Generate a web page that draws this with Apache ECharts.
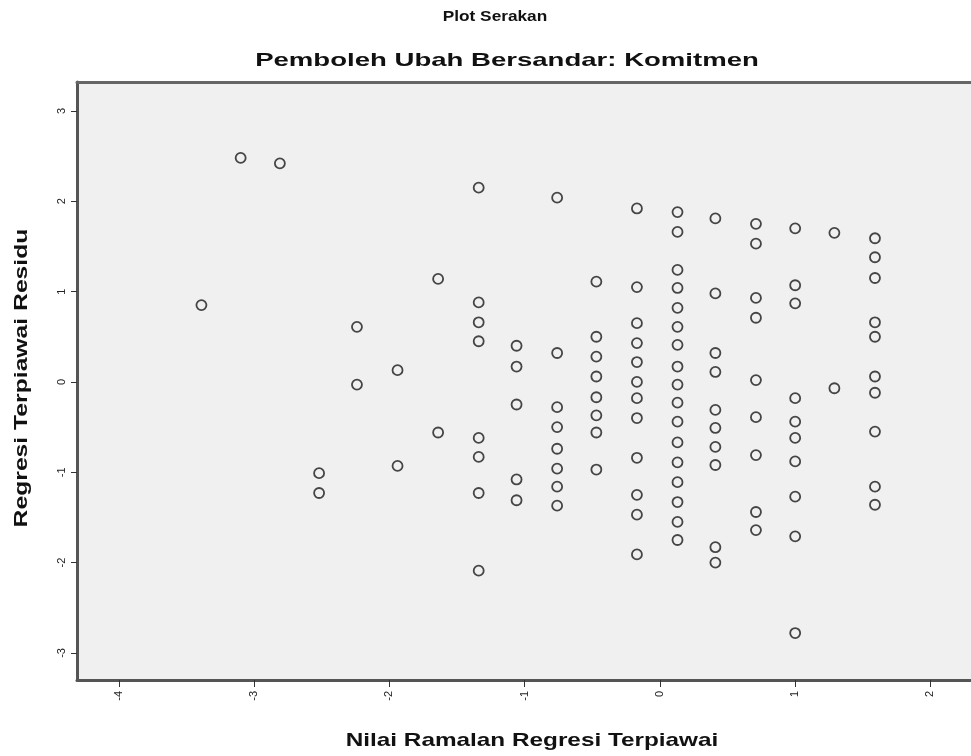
<!DOCTYPE html>
<html>
<head>
<meta charset="UTF-8">
<title>Plot Serakan</title>
<script src="https://cdn.jsdelivr.net/npm/echarts@6/dist/echarts.min.js"></script>
</head>
<body style="margin:0;background:#fff">
<div id="main" style="width:971px;height:756px;"></div>
<script type="text/javascript">
// nilai ramalan (x) bagi setiap lajur titik, dan residu (y) di lajur itu
var colX = [-3.39, -3.10, -2.81, -2.52, -2.24, -1.94, -1.64, -1.34, -1.06, -0.76,
            -0.47, -0.17, 0.13, 0.41, 0.71, 1.00, 1.29, 1.59];
var colY = [
  [0.85],
  [2.48],
  [2.42],
  [-1.01, -1.23],
  [0.61, -0.03],
  [0.13, -0.93],
  [1.14, -0.56],
  [2.15, 0.88, 0.66, 0.45, -0.62, -0.83, -1.23, -2.09],
  [0.40, 0.17, -0.25, -1.08, -1.31],
  [2.04, 0.32, -0.28, -0.50, -0.74, -0.96, -1.16, -1.37],
  [1.11, 0.50, 0.28, 0.06, -0.17, -0.37, -0.56, -0.97],
  [1.92, 1.05, 0.65, 0.43, 0.22, 0.00, -0.18, -0.40, -0.84, -1.25, -1.47, -1.91],
  [1.88, 1.66, 1.24, 1.04, 0.82, 0.61, 0.41, 0.17, -0.03, -0.23, -0.44, -0.67,
   -0.89, -1.11, -1.33, -1.55, -1.75],
  [1.81, 0.98, 0.32, 0.11, -0.31, -0.51, -0.72, -0.92, -1.83, -2.00],
  [1.75, 1.53, 0.93, 0.71, 0.02, -0.39, -0.81, -1.44, -1.64],
  [1.70, 1.07, 0.87, -0.18, -0.44, -0.62, -0.88, -1.27, -1.71, -2.78],
  [1.65, -0.07],
  [1.59, 1.38, 1.15, 0.66, 0.50, 0.06, -0.12, -0.55, -1.16, -1.36]
];
var xTicks = [-4, -3, -2, -1, 0, 1, 2];
var yTicks = [-3, -2, -1, 0, 1, 2, 3];

var points = [];
for (var i = 0; i < colX.length; i++) {
  for (var j = 0; j < colY[i].length; j++) {
    points.push([colX[i], colY[i][j]]);
  }
}

var myChart = echarts.init(document.getElementById('main'));
var font = 'Arial, "Liberation Sans", sans-serif';

// teks tajuk: sedikit diregangkan mendatar seperti gambar asal
function label(txt, x, y, size, sx, rot) {
  return {
    type: 'text', x: x, y: y, scaleX: sx, rotation: rot || 0,
    style: {
      text: txt, fontFamily: font, fontSize: size, fontWeight: 'bold',
      fill: '#111', textAlign: 'center', textVerticalAlign: 'middle'
    }
  };
}

var option = {
  animation: false,
  backgroundColor: '#ffffff',
  graphic: [
    label('Plot Serakan', 495, 17, 15, 1.15),
    label('Pemboleh Ubah Bersandar: Komitmen', 507, 61, 19, 1.45),
    label('Nilai Ramalan Regresi Terpiawai', 532, 741, 19, 1.28),
    label('Regresi Terpiawai Residu', 22, 378, 19, 1.3, Math.PI / 2)
  ],
  grid: {
    left: 77, top: 82, right: 0, bottom: 76,
    show: true,
    backgroundColor: '#f0f0f0',
    borderWidth: 0
  },
  xAxis: [{
    type: 'value',
    min: -4.31, max: 2.3,
    axisLine: { show: true, onZero: false, lineStyle: { color: '#555', width: 3 } },
    axisTick: { show: true, customValues: xTicks, length: 7, lineStyle: { color: '#333', width: 1 } },
    axisLabel: { customValues: xTicks, rotate: 90, fontFamily: font, fontSize: 11, color: '#222', margin: 11 },
    splitLine: { show: false }
  }, {
    // garis bingkai atas sahaja
    type: 'value', position: 'top',
    min: -4.31, max: 2.3,
    axisLine: { show: true, onZero: false, lineStyle: { color: '#666', width: 3 } },
    axisTick: { show: false }, axisLabel: { show: false }, splitLine: { show: false }
  }],
  yAxis: {
    type: 'value',
    min: -3.3, max: 3.32,
    axisLine: { show: true, onZero: false, lineStyle: { color: '#555', width: 3 } },
    axisTick: { show: true, customValues: yTicks, length: 6, lineStyle: { color: '#333', width: 1 } },
    axisLabel: { customValues: yTicks, rotate: 90, fontFamily: font, fontSize: 11, color: '#222', margin: 10 },
    splitLine: { show: false }
  },
  series: [{
    type: 'scatter',
    data: points,
    symbol: 'circle',
    symbolSize: 10,
    itemStyle: { color: 'rgba(0,0,0,0)', borderColor: '#1a1a1a', borderWidth: 1.8 }
  }]
};
myChart.setOption(option);
</script>
</body>
</html>
